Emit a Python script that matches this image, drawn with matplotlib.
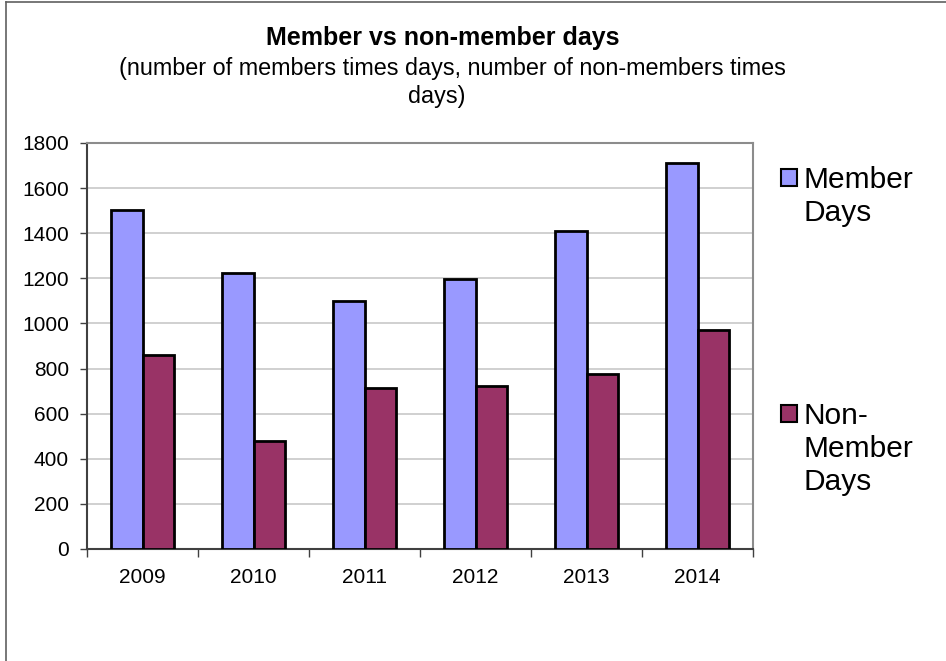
import numpy as np
import matplotlib
matplotlib.use("Agg")
import matplotlib.pyplot as plt
from matplotlib.patches import Rectangle
from matplotlib.lines import Line2D

plt.rcParams['font.family'] = ['Liberation Sans', 'DejaVu Sans']

# data
years = ['2009', '2010', '2011', '2012', '2013', '2014']
member_days = [1505, 1222, 1100, 1198, 1410, 1712]
non_member_days = [859, 481, 712, 721, 776, 973]
y_ticks = [0, 200, 400, 600, 800, 1000, 1200, 1400, 1600, 1800]

member_color = '#9999FF'
non_member_color = '#993366'

W, H = 946, 661
fig = plt.figure(figsize=(W / 100, H / 100), dpi=100)
# plot area in pixels: x 87..753, y 143..549
ax = fig.add_axes([87 / W, 1 - 549 / H, (753 - 87) / W, (549 - 143) / H])

x = np.arange(len(years))
bw = 0.284
ax.bar(x - bw / 2, member_days, bw, color=member_color, edgecolor='black', linewidth=2, zorder=3)
ax.bar(x + bw / 2, non_member_days, bw, color=non_member_color, edgecolor='black', linewidth=2, zorder=3)

ax.set_xlim(-0.5, len(years) - 0.5)
ax.set_ylim(0, 1800)
ax.set_yticks(y_ticks)
ax.yaxis.grid(True, color='#c8c8c8', linewidth=1.2, zorder=0)

ax.set_xticks(x)
ax.set_xticklabels(years, fontsize=15)
ax.set_xticks(np.arange(len(years) + 1) - 0.5, minor=True)
ax.tick_params(axis='x', which='major', length=0, pad=14)
ax.tick_params(axis='x', which='minor', length=6, width=1, color='#404040')
ax.tick_params(axis='y', labelsize=15, length=5, width=1, color='#404040', pad=8)

for side in ['top', 'right']:
    ax.spines[side].set_color('#8c8c8c')
    ax.spines[side].set_linewidth(1.5)
for side in ['left', 'bottom']:
    ax.spines[side].set_color('#404040')
    ax.spines[side].set_linewidth(1.5)

# titles
fig.text(443 / W, 1 - 38 / H, 'Member vs non-member days', ha='center', va='center',
         fontsize=18, fontweight='bold')
fig.text(452 / W, 1 - 69 / H, '(number of members times days, number of non-members times',
         ha='center', va='center', fontsize=16.8)
fig.text(437 / W, 1 - 96 / H, 'days)', ha='center', va='center', fontsize=16.8)

# legend, laid out like the spreadsheet one
legend_items = [('Member\nDays', member_color, 169), ('Non-\nMember\nDays', non_member_color, 405)]
for label, color, top in legend_items:
    fig.patches.append(Rectangle((781 / W, 1 - (top + 17) / H), 16 / W, 17 / H,
                                 transform=fig.transFigure, facecolor=color,
                                 edgecolor='black', linewidth=1.5))
    fig.text(803 / W, 1 - (top - 3) / H, label, ha='left', va='top', fontsize=21.5,
             linespacing=1.22)

# chart frame edges visible in the reference
fig.add_artist(Line2D([6 / W, 1], [1 - 2 / H, 1 - 2 / H], color='#606060', linewidth=1.2,
                      transform=fig.transFigure))
fig.add_artist(Line2D([6 / W, 6 / W], [0, 1 - 2 / H], color='#606060', linewidth=1.2,
                      transform=fig.transFigure))

fig.savefig('out.png', dpi=100)
